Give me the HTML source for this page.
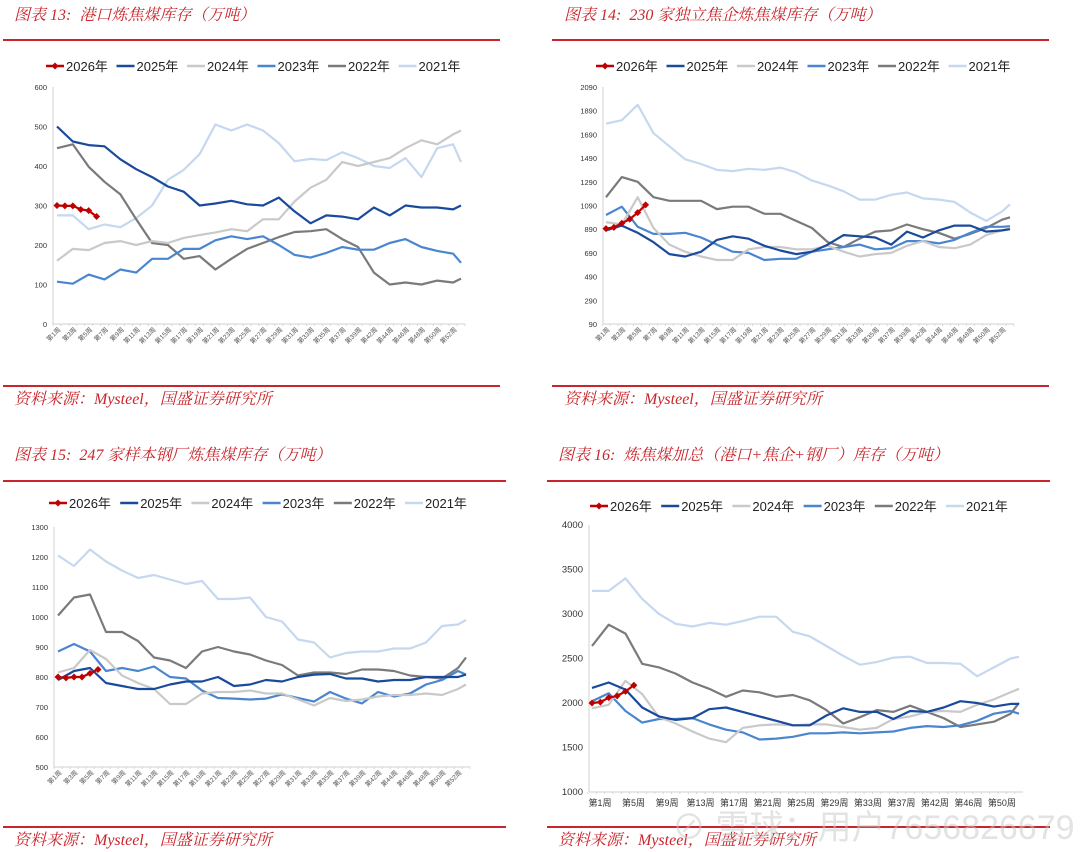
<!DOCTYPE html>
<html><head><meta charset="utf-8">
<style>
html,body{margin:0;padding:0;background:#fff;}
body{width:1080px;height:852px;position:relative;overflow:hidden;font-family:"Liberation Sans","Noto Sans CJK SC",sans-serif;}
.title,.src{position:absolute;color:#c8262c;font-style:italic;font-family:"Liberation Serif","Noto Serif CJK SC",serif;font-size:16px;white-space:nowrap;}
.rule{position:absolute;height:2px;background:#c8262c;}
svg{position:absolute;left:0;top:0;}
</style></head><body>
<div class="title" style="left:14px;top:2px;">图表 13:&nbsp; 港口炼焦煤库存（万吨）</div>
<div class="rule" style="left:3px;top:39px;width:497px;"></div>
<div class="rule" style="left:3px;top:385px;width:497px;"></div>
<div class="src" style="left:14px;top:386px;">资料来源：Mysteel，国盛证券研究所</div>

<div class="title" style="left:564px;top:2px;">图表 14:&nbsp; 230 家独立焦企炼焦煤库存（万吨）</div>
<div class="rule" style="left:552px;top:39px;width:497px;"></div>
<div class="rule" style="left:552px;top:385px;width:497px;"></div>
<div class="src" style="left:564px;top:386px;">资料来源：Mysteel，国盛证券研究所</div>

<div class="title" style="left:14px;top:442px;">图表 15:&nbsp; 247 家样本钢厂炼焦煤库存（万吨）</div>
<div class="rule" style="left:3px;top:480px;width:503px;"></div>
<div class="rule" style="left:3px;top:826px;width:503px;"></div>
<div class="src" style="left:14px;top:827px;">资料来源：Mysteel，国盛证券研究所</div>

<div class="title" style="left:558px;top:442px;">图表 16:&nbsp; 炼焦煤加总（港口+焦企+钢厂）库存（万吨）</div>
<div class="rule" style="left:547px;top:480px;width:503px;"></div>
<div class="rule" style="left:547px;top:826px;width:503px;"></div>
<div class="src" style="left:558px;top:827px;">资料来源：Mysteel，国盛证券研究所</div>

<svg id="svg" width="1080" height="852"></svg>
<div style="position:absolute;left:672px;top:800px;font-size:34px;color:rgba(200,200,200,0.5);white-space:nowrap;font-family:'Liberation Sans','Noto Sans CJK SC',sans-serif;">⊘ 雪球：用户7656826679</div>

<script>
// shared
const seriesNames = ["2026年","2025年","2024年","2023年","2022年","2021年"];
const weeksMain = [1,3,5,7,9,11,13,15,17,19,21,23,25,27,29,31,33,35,37,39,41,43,45,47,49,51,52];
const weeks2026 = [1,2,3,4,5,6];
const tickWeeksRot = [1,3,5,7,9,11,13,15,17,19,21,23,25,27,29,31,33,35,37,39,41,43,45,47,49,51];
const tickLabelsRot = ["第1周","第3周","第5周","第7周","第9周","第11周","第13周","第15周","第17周","第19周","第21周","第23周","第25周","第27周","第29周","第31周","第33周","第35周","第37周","第39周","第42周","第44周","第46周","第48周","第50周","第52周"];
const tickWeeksFlat = [1,5,9,13,17,21,25,29,33,37,41,45,49];
const tickLabelsFlat = ["第1周","第5周","第9周","第13周","第17周","第21周","第25周","第29周","第33周","第37周","第42周","第46周","第50周"];

// chart 13: port
const c13_2026 = [300,299,299,290,287,272];
const c13_2025 = [500,462,453,450,417,392,372,348,335,300,305,312,303,300,320,285,255,275,272,265,295,275,300,295,295,290,300];
const c13_2024 = [160,190,187,205,210,200,210,205,218,225,232,240,235,265,265,310,345,365,410,400,410,420,445,465,455,480,490];
const c13_2023 = [107,102,125,113,138,130,165,165,190,190,212,222,215,222,200,175,168,180,195,188,188,205,215,195,185,178,155];
const c13_2022 = [445,455,398,360,328,265,205,200,165,172,138,165,190,205,220,233,235,240,215,195,130,100,105,100,110,105,115];
const c13_2021 = [275,275,240,252,245,268,300,365,390,430,505,490,505,490,458,412,418,415,435,420,400,395,420,372,445,455,410];
const c13_ticks = [0,100,200,300,400,500,600];

// chart 14: coking plants
const c14_2026 = [895,905,940,975,1030,1095];
const c14_2025 = [880,920,860,780,680,660,700,800,830,810,750,710,680,700,760,840,830,820,760,870,820,880,920,920,870,880,890];
const c14_2024 = [950,930,1160,900,760,700,660,630,630,720,740,740,720,720,750,700,660,680,690,750,790,740,730,760,840,880,900];
const c14_2023 = [1010,1080,910,850,850,860,820,760,700,690,630,640,640,700,720,740,760,720,730,790,790,770,800,860,910,910,915];
const c14_2022 = [1160,1330,1290,1160,1130,1130,1130,1060,1080,1080,1020,1020,960,900,780,740,810,870,880,930,890,860,810,850,900,970,990];
const c14_2021 = [1780,1810,1940,1700,1590,1480,1440,1390,1380,1400,1390,1410,1370,1300,1260,1210,1140,1140,1180,1200,1150,1140,1120,1030,960,1040,1100];
const c14_ticks = [90,290,490,690,890,1090,1290,1490,1690,1890,2090];

// chart 15: steel mills
const c15_2026 = [800,797,800,800,812,825];
const c15_2025 = [790,820,830,780,770,760,760,775,785,785,800,770,775,790,785,800,808,810,795,795,785,790,790,800,800,800,808];
const c15_2024 = [815,830,890,860,805,780,760,710,710,745,750,750,755,745,745,725,705,730,720,725,735,740,740,745,740,760,775];
const c15_2023 = [885,910,885,820,830,820,835,800,795,755,730,728,725,728,742,730,718,750,728,712,750,735,745,775,790,820,808];
const c15_2022 = [1005,1065,1075,950,950,920,865,855,830,885,900,885,875,855,840,805,815,815,810,825,825,820,805,800,795,830,865];
const c15_2021 = [1205,1170,1225,1185,1155,1130,1140,1125,1110,1120,1060,1060,1065,1000,985,925,915,865,880,885,885,895,895,915,970,975,990];
const c15_ticks = [500,600,700,800,900,1000,1100,1200,1300];

// chart 16: total
const c16_2026 = [2000,2010,2060,2080,2130,2200];
const c16_2025 = [2170,2230,2150,1950,1850,1810,1830,1930,1950,1900,1850,1800,1750,1750,1860,1940,1900,1900,1820,1910,1900,1950,2020,2000,1960,1990,1990];
const c16_2024 = [1940,1980,2250,2100,1840,1770,1680,1600,1560,1720,1750,1760,1750,1760,1760,1730,1700,1720,1820,1850,1900,1910,1900,1980,2040,2120,2160];
const c16_2023 = [2020,2110,1910,1780,1820,1820,1830,1760,1700,1670,1590,1600,1620,1660,1660,1670,1660,1670,1680,1720,1740,1730,1750,1800,1880,1910,1880];
const c16_2022 = [2640,2880,2780,2440,2400,2330,2230,2160,2070,2140,2120,2070,2090,2030,1920,1770,1840,1920,1900,1970,1900,1830,1730,1760,1790,1880,2000];
const c16_2021 = [3260,3260,3400,3170,3000,2890,2860,2900,2880,2920,2970,2970,2800,2750,2640,2530,2430,2460,2510,2520,2450,2450,2440,2300,2400,2500,2520];
const c16_ticks = [1000,1500,2000,2500,3000,3500,4000];

const colors = ["#c00000","#1a4a9c","#c9c9c9","#4a86d0","#7a7a7a","#c6d8f0"];
const NS = "http://www.w3.org/2000/svg";
const svg = document.getElementById("svg");
function mk(tag, attrs, parent){ const e=document.createElementNS(NS,tag); for(const k in attrs) e.setAttribute(k,attrs[k]); (parent||svg).appendChild(e); return e; }

function drawChart(cfg){
  const g = mk("g",{});
  
  
  const ymin=cfg.ticks[0], ymax=cfg.ticks[cfg.ticks.length-1];
  const yS = v => cfg.y0 - (v-ymin)/(ymax-ymin)*(cfg.y0-cfg.y1);
  const xS = w => cfg.xw1 + (w-1)*(cfg.xw52-cfg.xw1)/51;
  const ya = mk("line",{x1:cfg.ax,x2:cfg.ax,y1:cfg.y1,y2:cfg.y0,stroke:"#d0d0d0","stroke-width":1},g);
  
  
  const xa = mk("line",{x1:cfg.ax,x2:cfg.axEnd,y1:cfg.y0,y2:cfg.y0,stroke:"#d0d0d0","stroke-width":1},g);
  
  
  for(let w=1; w<=53; w++){
    const x = xS(w)-(cfg.xw52-cfg.xw1)/102;
    if(x>cfg.axEnd) break;
    mk("line",{x1:x,x2:x,y1:cfg.y0,y2:cfg.y0+2,stroke:"#d0d0d0","stroke-width":0.8},g);
  }
  cfg.ticks.forEach(t=>{
    const tx = mk("text",{x:cfg.ax-6,y:yS(t)+3,"text-anchor":"end","font-size":cfg.yfs,fill:"#333"},g);
    tx.textContent = t;
    
    
  });
  if(cfg.flat){
    tickWeeksFlat.forEach((w,i)=>{
      const tx = mk("text",{x:xS(w)+8,y:cfg.y0+14,"text-anchor":"middle","font-size":9,fill:"#333"},g);
      tx.textContent = tickLabelsFlat[i];
      
      
    });
  } else {
    tickWeeksRot.forEach((w,i)=>{
      const x=xS(w)+4, y=cfg.y0+6;
      const tx = mk("text",{x:x,y:y,"text-anchor":"end","font-size":6.5,fill:"#555",transform:`rotate(-45 ${x} ${y})`},g);
      tx.textContent = tickLabelsRot[i];
      
      
    });
  }
  for(let s=5; s>=0; s--){
    const data = cfg.series[s];
    const wk = s===0 ? weeks2026 : weeksMain;
    const pts = data.map((v,i)=>xS(wk[i]).toFixed(1)+","+yS(v).toFixed(1)).join(" ");
    const pl = mk("polyline",{points:pts,fill:"none",stroke:colors[s],"stroke-width":2.2,"stroke-linejoin":"round"},g);
    
    
    if(s===0){
      data.forEach((v,i)=>{
        const x=xS(wk[i]), y=yS(v), r=3.5;
        const d = mk("polygon",{points:`${x},${y-r} ${x+r},${y} ${x},${y+r} ${x-r},${y}`,fill:colors[0]},g);
        
        
      });
    }
  }
  for(let s=0; s<6; s++){
    const lx = cfg.legX + s*cfg.legStep;
    const ln = mk("line",{x1:lx,x2:lx+18,y1:cfg.legY,y2:cfg.legY,stroke:colors[s],"stroke-width":2.5},g);
    
    
    if(s===0){
      const x=lx+9,y=cfg.legY,r=3.5;
      mk("polygon",{points:`${x},${y-r} ${x+r},${y} ${x},${y+r} ${x-r},${y}`,fill:colors[0]},g);
    }
    const t = mk("text",{x:lx+20,y:cfg.legY+5,"font-size":13,fill:"#222"},g);
    t.textContent = seriesNames[s];
    
    
  }
}

drawChart({id:"chart13-port-inventory",ticks:c13_ticks,series:[c13_2026,c13_2025,c13_2024,c13_2023,c13_2022,c13_2021],
  ax:53,axEnd:465,y0:324,y1:87,xw1:57,xw52:461,yfs:7.5,legX:46,legY:66,legStep:70.5});
drawChart({id:"chart14-coking-plant-inventory",ticks:c14_ticks,series:[c14_2026,c14_2025,c14_2024,c14_2023,c14_2022,c14_2021],
  ax:603,axEnd:1014,y0:324,y1:87,xw1:606,xw52:1010,yfs:7.5,legX:596,legY:66,legStep:70.5});
drawChart({id:"chart15-steel-mill-inventory",ticks:c15_ticks,series:[c15_2026,c15_2025,c15_2024,c15_2023,c15_2022,c15_2021],
  ax:54,axEnd:470,y0:767,y1:527,xw1:58,xw52:466,yfs:7.5,legX:49,legY:503,legStep:71.2});
drawChart({id:"chart16-total-inventory",ticks:c16_ticks,series:[c16_2026,c16_2025,c16_2024,c16_2023,c16_2022,c16_2021],
  ax:589,axEnd:1023,y0:792,y1:525,xw1:592,xw52:1019,yfs:9.5,flat:true,legX:590,legY:506,legStep:71.2});
</script>
</body></html>
